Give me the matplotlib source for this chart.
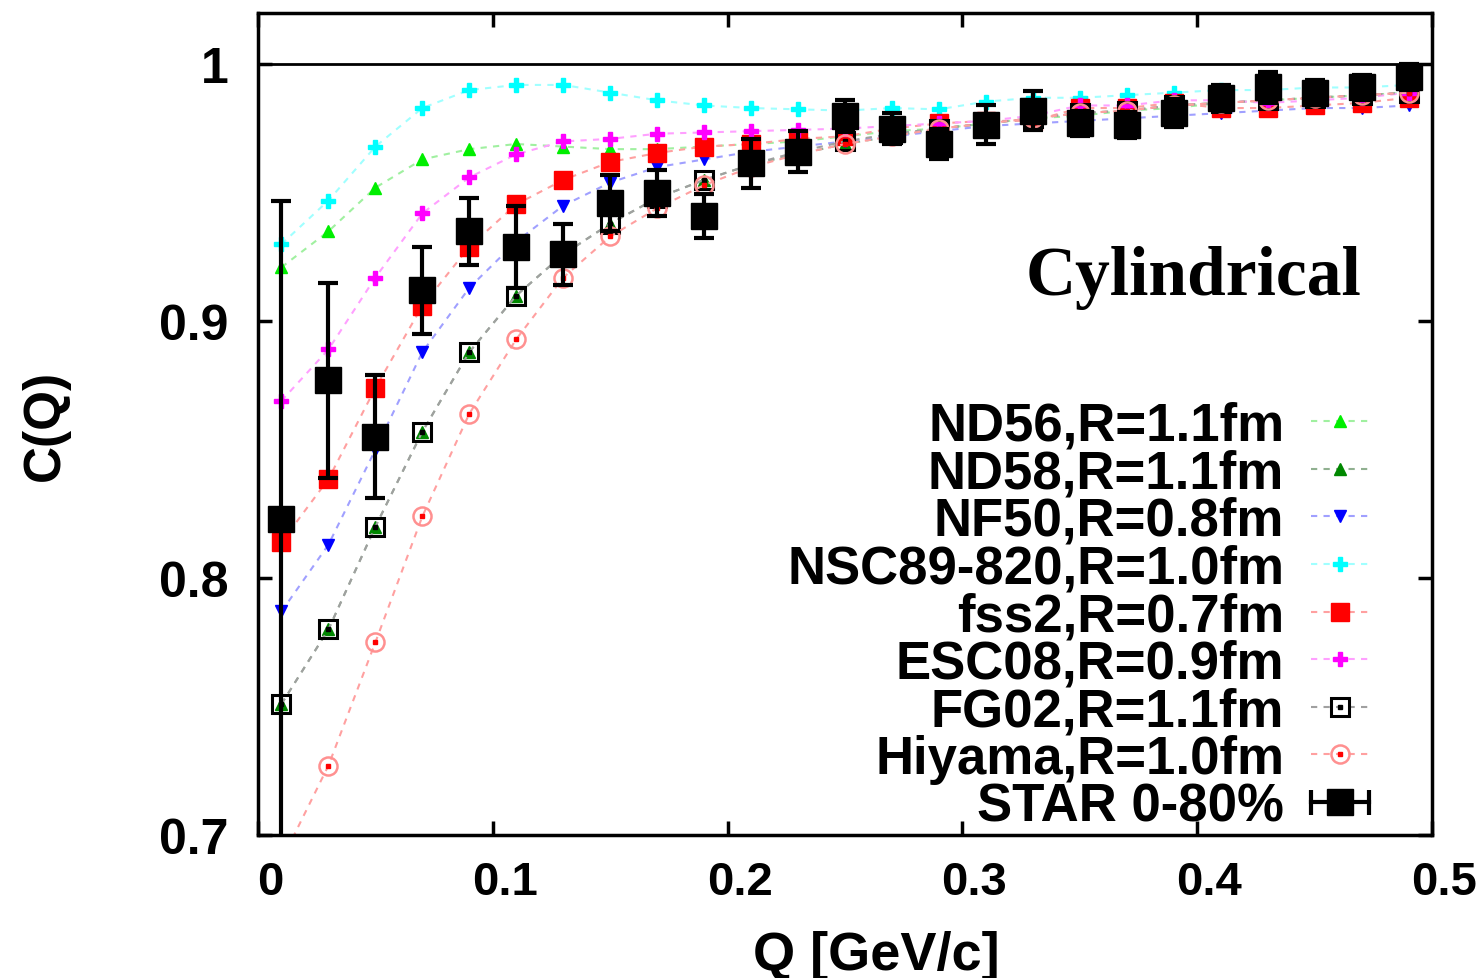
import matplotlib
matplotlib.use("Agg")
import matplotlib.pyplot as plt
import matplotlib.transforms as mtransforms
from matplotlib.lines import Line2D
from matplotlib.legend_handler import HandlerTuple, HandlerLine2D

plt.rcParams["font.family"] = ["Liberation Sans", "DejaVu Sans"]

# Q [GeV/c] bin centres
q = [0.01, 0.03, 0.05, 0.07, 0.09, 0.11, 0.13, 0.15, 0.17, 0.19, 0.21, 0.23, 0.25,
     0.27, 0.29, 0.31, 0.33, 0.35, 0.37, 0.39, 0.41, 0.43, 0.45, 0.47, 0.49]

nd56 = [0.921, 0.935, 0.952, 0.963, 0.967, 0.969, 0.968, 0.967, 0.967, 0.968, 0.969, 0.970, 0.972,
        0.974, 0.975, 0.977, 0.979, 0.980, 0.982, 0.983, 0.985, 0.986, 0.987, 0.988, 0.989]
nd58 = [0.751, 0.780, 0.820, 0.857, 0.888, 0.910, 0.926, 0.938, 0.948, 0.955, 0.961, 0.965, 0.969,
        0.972, 0.975, 0.977, 0.979, 0.981, 0.982, 0.984, 0.985, 0.986, 0.987, 0.988, 0.989]
nf50 = [0.787, 0.813, 0.850, 0.888, 0.913, 0.931, 0.945, 0.954, 0.960, 0.963, 0.966, 0.968, 0.970,
        0.972, 0.974, 0.976, 0.977, 0.978, 0.979, 0.980, 0.981, 0.982, 0.983, 0.983, 0.984]
nsc89 = [0.930, 0.947, 0.968, 0.983, 0.990, 0.992, 0.992, 0.989, 0.986, 0.984, 0.983, 0.9825, 0.982,
         0.983, 0.9825, 0.9855, 0.987, 0.987, 0.988, 0.989, 0.990, 0.990, 0.991, 0.991, 0.992]
fss2 = [0.814, 0.8385, 0.874, 0.906, 0.929, 0.9455, 0.955, 0.962, 0.9655, 0.968, 0.969, 0.971, 0.972,
        0.975, 0.977, 0.978, 0.978, 0.983, 0.983, 0.985, 0.983, 0.983, 0.984, 0.985, 0.987]
esc08 = [0.869, 0.889, 0.917, 0.942, 0.956, 0.965, 0.970, 0.971, 0.973, 0.9735, 0.974, 0.9745, 0.975,
         0.976, 0.977, 0.978, 0.980, 0.984, 0.984, 0.986, 0.986, 0.985, 0.986, 0.987, 0.989]
fg02 = [0.751, 0.780, 0.820, 0.857, 0.888, 0.910, 0.926, 0.938, 0.948, 0.955, 0.961, 0.966, 0.970,
        0.973, 0.975, 0.977, 0.979, 0.981, 0.982, 0.984, 0.985, 0.986, 0.987, 0.988, 0.989]
hiyama = [0.690, 0.727, 0.775, 0.824, 0.864, 0.893, 0.917, 0.933, 0.944, 0.953, 0.960, 0.965, 0.969,
          0.972, 0.975, 0.977, 0.979, 0.981, 0.982, 0.984, 0.985, 0.986, 0.987, 0.988, 0.989]

star = [0.823, 0.877, 0.855, 0.912, 0.935, 0.929, 0.926, 0.946, 0.950, 0.941, 0.9615, 0.966, 0.980,
        0.975, 0.969, 0.9765, 0.982, 0.977, 0.9765, 0.981, 0.987, 0.991, 0.989, 0.991, 0.995]
star_err = [0.124, 0.038, 0.024, 0.017, 0.013, 0.016, 0.012, 0.011, 0.009, 0.0085, 0.0095, 0.008, 0.006,
            0.006, 0.006, 0.0075, 0.0075, 0.005, 0.005, 0.0055, 0.005, 0.006, 0.005, 0.005, 0.005]

labels = ["ND56,R=1.1fm", "ND58,R=1.1fm", "NF50,R=0.8fm", "NSC89-820,R=1.0fm",
          "fss2,R=0.7fm", "ESC08,R=0.9fm", "FG02,R=1.1fm", "Hiyama,R=1.0fm", "STAR 0-80%"]

fig = plt.figure(figsize=(14.8, 9.79), dpi=100)
ax = fig.add_axes([0.1743, 0.1461, 0.7933, 0.8396])

dash = (0, (3, 3))
h_nd56, = ax.plot(q, nd56, ls=dash, lw=1.5, color="#a0f0a0", marker="^", ms=8,
                  mfc="#00ee00", mec="#00ee00")
h_nd58, = ax.plot(q, nd58, ls=dash, lw=1.5, color="#90b090", marker="^", ms=8,
                  mfc="#008800", mec="#008800")
h_nf50, = ax.plot(q, nf50, ls=dash, lw=1.5, color="#a0a0ff", marker="v", ms=9,
                  mfc="#0000ff", mec="#0000ff")
h_nsc, = ax.plot(q, nsc89, ls=dash, lw=1.5, color="#a0ffff", marker="P", ms=9.5,
                 mfc="#00ffff", mec="#00ffff")
h_fss2, = ax.plot(q, fss2, ls=dash, lw=1.5, color="#ffa0a0", marker="s", ms=13,
                  mfc="#ff0000", mec="#ff0000")
h_esc, = ax.plot(q, esc08, ls=dash, lw=1.5, color="#ffa0ff", marker="P", ms=9.5,
                 mfc="#ff00ff", mec="#ff00ff")
h_fg02, = ax.plot(q, fg02, ls=dash, lw=1.5, color="#a0a0a0", marker="s", ms=13,
                  mfc="none", mec="black", mew=2.2)
h_fg02d, = ax.plot(q, fg02, ls="none", marker="s", ms=3, color="black")
h_hiy, = ax.plot(q, hiyama, ls=dash, lw=1.5, color="#ffa0a0", marker="o", ms=13,
                 mfc="none", mec="#ff9090", mew=1.8)
h_hiyd, = ax.plot(q, hiyama, ls="none", marker="s", ms=3, color="#ff0000")
ax.errorbar(q, star, yerr=star_err, fmt="s", ms=19, color="black",
            ecolor="black", elinewidth=3, capsize=7, capthick=3, zorder=5)

ax.axhline(1.0, color="black", lw=2)

ax.set_xlim(0, 0.5)
ax.set_ylim(0.7, 1.02)
ax.set_xticks([0, 0.1, 0.2, 0.3, 0.4, 0.5])
ax.set_xticklabels(["0", "0.1", "0.2", "0.3", "0.4", "0.5"])
ax.set_yticks([0.7, 0.8, 0.9, 1.0])
ax.set_yticklabels(["0.7", "0.8", "0.9", "1"])
ax.tick_params(direction="in", length=10, width=2.5, top=True, right=True)
ax.tick_params(axis="x", pad=18, labelsize=34)
ax.tick_params(axis="y", pad=21, labelsize=36)
shift = mtransforms.ScaledTranslation(0.12, 0, fig.dpi_scale_trans)
for lab in ax.get_xticklabels():
    lab.set_fontweight("bold")
    lab.set_transform(lab.get_transform() + shift)
for lab in ax.get_yticklabels():
    lab.set_fontweight("bold")
for s in ax.spines.values():
    s.set_linewidth(2.5)

ax.set_xlabel("Q [GeV/c]", fontsize=39, fontweight="bold")
ax.xaxis.set_label_coords(0.527, -0.116)
ax.set_ylabel("C(Q)", fontsize=37, fontweight="bold")
ax.yaxis.set_label_coords(-0.160, 0.5)

ax.text(0.94, 0.658, "Cylindrical", transform=ax.transAxes, ha="right", va="baseline",
        fontsize=50, fontweight="bold", family="Liberation Serif")

# STAR legend entry drawn gnuplot-style: horizontal bar with caps plus square
star_bar = Line2D([], [], color="black", lw=3, marker="|", ms=18, mew=3)
star_box = Line2D([], [], ls="none", color="black", marker="s", ms=19)

handles = [h_nd56, h_nd58, h_nf50, h_nsc, h_fss2, h_esc, (h_fg02, h_fg02d),
           (h_hiy, h_hiyd), (star_bar, star_box)]
ax.legend(handles, labels, loc="upper right", bbox_to_anchor=(0.946, 0.5285),
          markerfirst=False, frameon=False, borderpad=0, borderaxespad=0,
          handlelength=1.1, handletextpad=0.5, labelspacing=-0.045,
          prop={"size": 38, "weight": "bold"},
          handler_map={tuple: HandlerTuple(ndivide=1),
                       star_bar: HandlerLine2D(numpoints=2, marker_pad=0)})

fig.savefig("out.png", dpi=100)
